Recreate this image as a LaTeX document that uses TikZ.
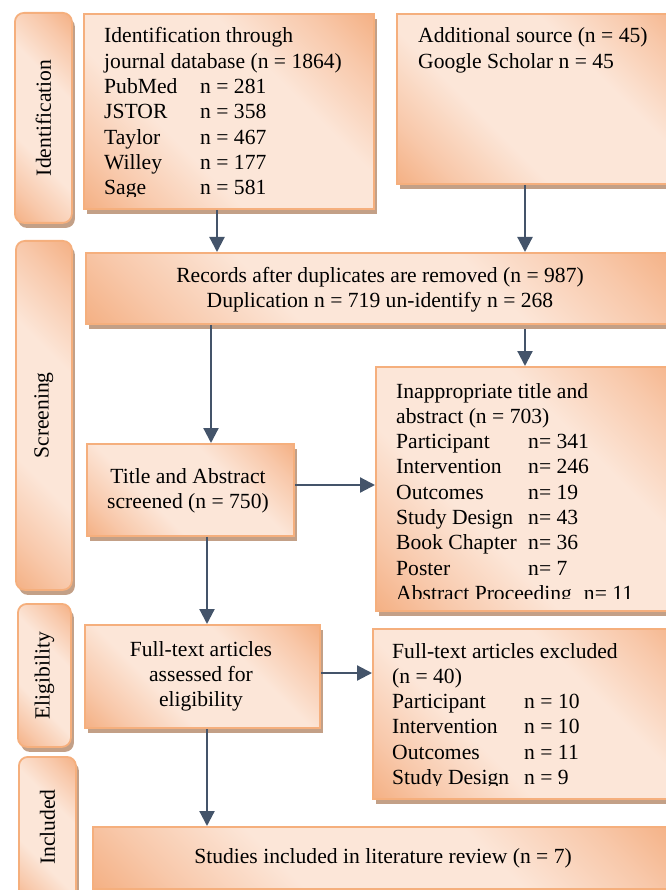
\documentclass[tikz,border=0pt]{standalone}
\usepackage{fontspec}
\setmainfont{Liberation Serif}
\usetikzlibrary{arrows.meta,shadows}
\definecolor{peachD}{RGB}{243,170,122}
\definecolor{peachM}{RGB}{248,200,170}
\definecolor{peachL}{RGB}{252,230,216}
\definecolor{bord}{RGB}{245,175,125}
\definecolor{shad}{RGB}{195,160,135}
\definecolor{arrc}{RGB}{68,84,106}
\pgfdeclareverticalshading{peachy}{100bp}{color(0bp)=(peachD); color(12bp)=(peachD); color(24bp)=(peachM); color(38bp)=(peachL); color(62bp)=(peachL); color(76bp)=(peachM); color(88bp)=(peachD); color(100bp)=(peachD)}
\newcommand\fs{\fontsize{21.6}{25.3}\selectfont}
\begin{document}
\begin{tikzpicture}[x=1pt,y=-1pt,
  box/.style={draw=bord, line width=1.8pt, shading=peachy, shading angle=-45,
    drop shadow={shadow xshift=3pt, shadow yshift=-5pt, fill=shad, opacity=1},
    anchor=north west, inner sep=0pt},
  lab/.style={box, rounded corners=9pt},
  txt/.style={inner sep=0pt, font=\fs, text=black},
  arr/.style={draw=arrc, line width=2.2pt, -{Triangle[length=15pt,width=15pt]}}]
\useasboundingbox (0,0) rectangle (665,890);

% side labels
\node[lab, minimum width=57pt, minimum height=210pt] (l1) at (14,12) {};
\node[lab, minimum width=56pt, minimum height=349pt] (l2) at (15,240) {};
\node[lab, minimum width=53pt, minimum height=143pt] (l3) at (17,603) {};
\node[lab, minimum width=57pt, minimum height=150pt] (l4) at (18,756) {};
\node[txt, rotate=90] (l1t) at (l1.center) {Identification};
\node[txt, rotate=90] (l2t) at (l2.center) {Screening};
\node[txt, rotate=90] (l3t) at (l3.center) {Eligibility};
\node[txt, rotate=90] (l4t) at ([yshift=-2pt]l4.center |- 0,825) {Included};

% boxes
\node[box, minimum width=290pt, minimum height=195pt] (b1) at (83,13) {};
\node[box, minimum width=294pt, minimum height=170pt] (b2) at (396,13) {};
\node[box, minimum width=590pt, minimum height=71pt] (rec) at (85,252) {};
\node[box, minimum width=207pt, minimum height=92pt] (ta) at (86,443) {};
\node[box, minimum width=315pt, minimum height=244pt] (inap) at (375,366) {};
\node[box, minimum width=235pt, minimum height=103pt] (ft) at (84,624) {};
\node[box, minimum width=318pt, minimum height=170pt] (exc) at (372,628) {};
\node[box, minimum width=583pt, minimum height=62pt] (stu) at (92,826) {};

% texts
\begin{scope}
\clip (83,13) rectangle (373,197);
\node[txt, anchor=base west] (b1t) at (104,43) {\begin{tabular}[t]{@{}l@{}}
Identification through\\
journal database (n = 1864)\\
\makebox[96pt][l]{PubMed}n = 281\\
\makebox[96pt][l]{JSTOR}n = 358\\
\makebox[96pt][l]{Taylor}n = 467\\
\makebox[96pt][l]{Willey}n = 177\\
\makebox[96pt][l]{Sage}n = 581
\end{tabular}};
\end{scope}
\node[txt, anchor=base west] (b2t) at (418,43) {\begin{tabular}[t]{@{}l@{}}
Additional source (n = 45)\\
Google Scholar n = 45
\end{tabular}};
\node[txt, anchor=base] (rect) at (380,282) {\begin{tabular}[t]{@{}c@{}}
Records after duplicates are removed (n = 987)\\
Duplication n = 719 un-identify n = 268
\end{tabular}};
\node[txt, anchor=base] (tat) at (188,483) {\begin{tabular}[t]{@{}c@{}}
Title and Abstract\\
screened (n = 750)
\end{tabular}};
\begin{scope}
\clip (375,366) rectangle (690,598);
\node[txt, anchor=base west] (inapt) at (396,398) {\begin{tabular}[t]{@{}l@{}}
Inappropriate title and\\
abstract (n = 703)\\
\makebox[132pt][l]{Participant}n= 341\\
\makebox[132pt][l]{Intervention}n= 246\\
\makebox[132pt][l]{Outcomes}n= 19\\
\makebox[132pt][l]{Study Design}n= 43\\
\makebox[132pt][l]{Book Chapter}n= 36\\
\makebox[132pt][l]{Poster}n= 7\\
Abstract Proceeding\hspace{12pt}n= 11
\end{tabular}};
\end{scope}
\node[txt, anchor=base] (ftt) at (201,656) {\begin{tabular}[t]{@{}c@{}}
Full-text articles\\
assessed for\\
eligibility
\end{tabular}};
\begin{scope}
\clip (372,628) rectangle (690,785);
\node[txt, anchor=base west] (exct) at (392,658) {\begin{tabular}[t]{@{}l@{}}
Full-text articles excluded\\
(n = 40)\\
\makebox[132pt][l]{Participant}n = 10\\
\makebox[132pt][l]{Intervention}n = 10\\
\makebox[132pt][l]{Outcomes}n = 11\\
\makebox[132pt][l]{Study Design}n = 9
\end{tabular}};
\end{scope}
\node[txt, anchor=base] (stut) at (383,863) {Studies included in literature review (n = 7)};

% arrows
\coordinate (xa) at (217,0);
\coordinate (xb) at (525,0);
\coordinate (xc) at (211,0);
\coordinate (xd) at (207,0);
\coordinate (ya) at (0,485);
\coordinate (yb) at (0,673);
\draw[arr] (b1.south -| xa) -- (rec.north -| xa);
\draw[arr] (b2.south -| xb) -- (rec.north -| xb);
\draw[arr] ([yshift=-4pt]rec.south -| xb) -- (inap.north -| xb);
\draw[arr] (rec.south -| xc) -- (ta.north -| xc);
\draw[arr] (ta.east |- ya) -- (inap.west |- ya);
\draw[arr] (ta.south -| xd) -- (ft.north -| xd);
\draw[arr] (ft.east |- yb) -- (exc.west |- yb);
\draw[arr] (ft.south -| xd) -- (stu.north -| xd);
\end{tikzpicture}
\end{document}
